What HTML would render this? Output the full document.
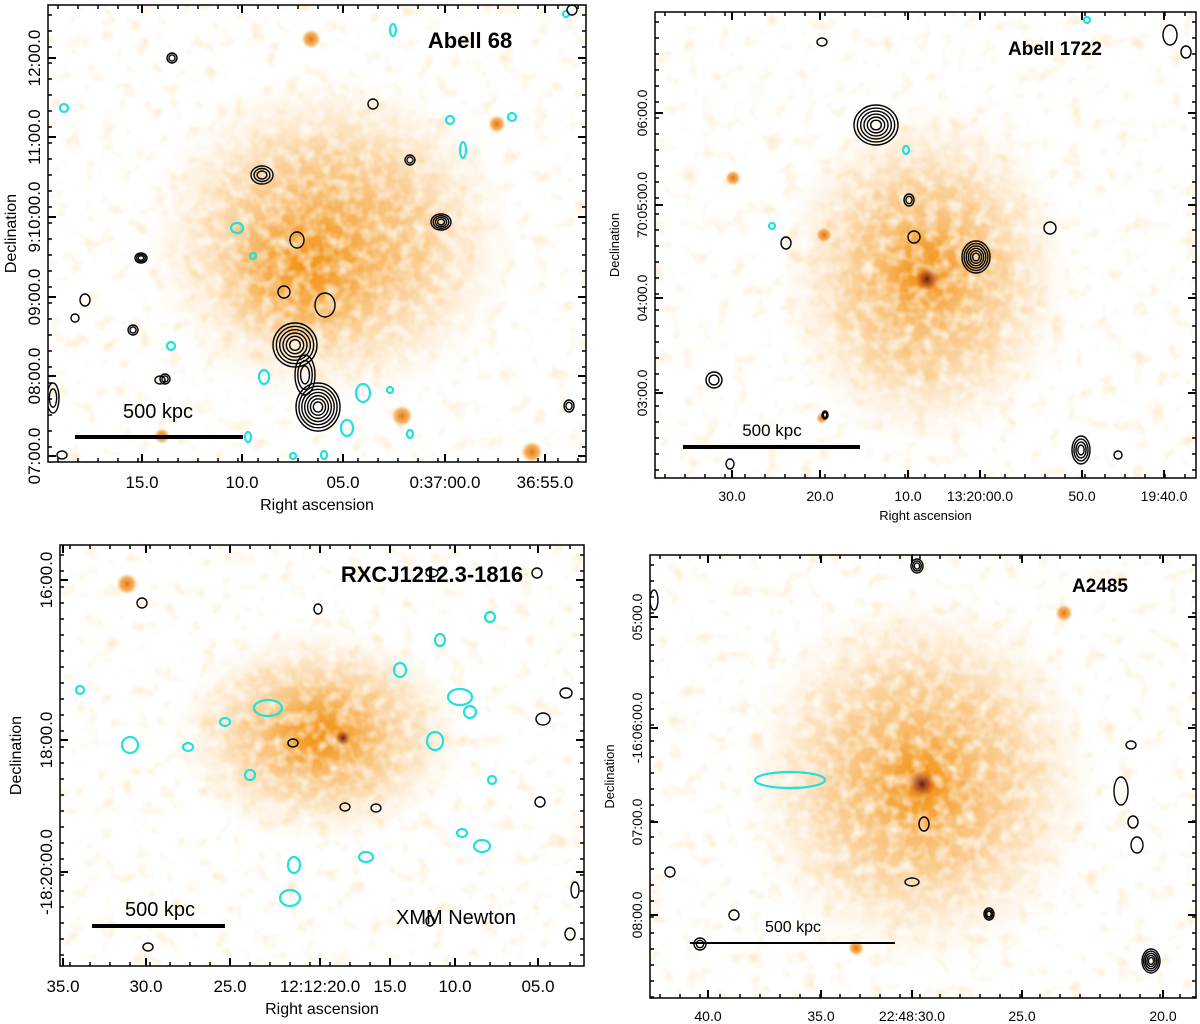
<!DOCTYPE html>
<html><head><meta charset="utf-8">
<style>
body{margin:0;background:#fff;width:1200px;height:1024px;overflow:hidden;font-family:"Liberation Sans",sans-serif;}
svg{position:absolute;left:0;top:0}
</style></head>
<body>
<svg id="s" width="1200" height="1024" xmlns="http://www.w3.org/2000/svg">
<defs>
<filter id="mottle" x="0" y="0" width="100%" height="100%">
<feTurbulence type="fractalNoise" baseFrequency="0.08" numOctaves="2" seed="3"/>
<feColorMatrix type="matrix" values="0 0 0 0 1  0 0 0 0 1  0 0 0 0 1  0 0 0 -2.0 1.25"/>
</filter>
<filter id="patch" x="0" y="0" width="100%" height="100%">
<feTurbulence type="fractalNoise" baseFrequency="0.06" numOctaves="2" seed="11"/>
<feColorMatrix type="matrix" values="0 0 0 0 0.98  0 0 0 0 0.72  0 0 0 0 0.38  0 0 0 3.2 -1.75"/>
</filter>
<radialGradient id="rg"><stop offset="0" stop-color="#f08a00" stop-opacity="0.8"/><stop offset="0.5" stop-color="#f5a030" stop-opacity="0.5"/><stop offset="1" stop-color="#fbd090" stop-opacity="0"/></radialGradient>
<radialGradient id="rgs"><stop offset="0" stop-color="#e07000" stop-opacity="0.95"/><stop offset="0.6" stop-color="#f09020" stop-opacity="0.7"/><stop offset="1" stop-color="#f8c070" stop-opacity="0"/></radialGradient>
<radialGradient id="rgc"><stop offset="0" stop-color="#5a2010" stop-opacity="1"/><stop offset="0.5" stop-color="#b04010" stop-opacity="0.7"/><stop offset="1" stop-color="#d06010" stop-opacity="0"/></radialGradient>
<clipPath id="c1"><rect x="48" y="5" width="538" height="457"/></clipPath>
<clipPath id="c2"><rect x="655" y="12" width="541" height="466"/></clipPath>
<clipPath id="c3"><rect x="60" y="545" width="524" height="421"/></clipPath>
<clipPath id="c4"><rect x="650" y="555" width="546" height="443"/></clipPath>
</defs>
<g id="root"></g>
</svg>
<script>
const panels = [
 {id:1,x:48,y:5,w:538,h:457,title:"Abell 68",tx:470,ty:48,ts:22,clip:"c1"},
 {id:2,x:655,y:12,w:541,h:466,title:"Abell 1722",tx:1055,ty:55,ts:19,clip:"c2"},
 {id:3,x:60,y:545,w:524,h:421,title:"RXCJ1212.3-1816",tx:432,ty:582,ts:22,clip:"c3"},
 {id:4,x:650,y:555,w:546,h:443,title:"A2485",tx:1100,ty:592,ts:19,clip:"c4"}
];
const halo1=[[330,240,190,170],[305,270,100,90]];
const halo2=[[925,275,150,175],[925,270,60,70]];
const halo3=[[320,735,150,110],[320,735,75,60]];
const halo4=[[920,780,180,190],[922,785,70,80]];
const halos=[halo1,halo2,halo3,halo4];
const src1=[[311,39,10],[497,124,9],[402,416,11],[532,452,11],[162,436,8]];
const src2=[[733,178,8],[824,235,8],[822,418,6]];
const src3=[[127,584,11]];
const src4=[[1064,613,9],[856,948,8]];
const srcs=[src1,src2,src3,src4];
const cores=[[],[[927,279,12]],[[343,738,8]],[[922,784,14]]];
const rad1=[[295,345,22,22,6],[318,407,22,24,7],[305,375,10,20,3],[441,222,10,8,4],[262,175,11,9,3],[141,258,6,5,3],[297,240,7,8,1],[325,305,10,12,1],[284,292,6,6,1],[410,160,5,5,2],[172,58,5,5,2],[133,330,5,5,2],[165,379,5,5,2],[373,104,5,5,1],[85,300,5,6,1],[75,318,4,4,1],[569,406,5,6,2],[572,10,5,5,1],[53,398,6,15,2],[160,380,5,4,1],[62,455,5,4,1]];
const rad2=[[876,125,22,20,6],[976,257,14,16,6],[1081,450,9,14,4],[914,237,6,6,1],[909,200,5,6,2],[786,243,5,6,1],[1050,228,6,6,1],[714,380,8,8,2],[822,42,5,4,1],[1170,35,7,10,1],[1186,52,5,6,1],[730,464,4,5,1],[1118,455,4,4,1],[825,415,3,4,2]];
const rad3=[[142,603,5,5,1],[293,743,5,4,1],[345,807,5,4,1],[376,808,5,4,1],[543,719,7,6,1],[566,693,6,5,1],[540,802,5,5,1],[575,890,4,8,1],[570,934,5,6,1],[430,921,4,5,1],[148,947,5,4,1],[318,609,4,5,1],[432,573,6,4,1],[537,573,5,5,1]];
const rad4=[[917,566,6,7,3],[1151,961,9,12,5],[1121,791,7,14,1],[1133,822,5,6,1],[1137,845,6,8,1],[1131,745,5,4,1],[924,824,5,7,1],[912,882,7,4,1],[989,914,5,6,3],[700,944,6,6,2],[734,915,5,5,1],[670,872,5,5,1],[654,600,4,10,1]];
const rads=[rad1,rad2,rad3,rad4];
const cy1=[[64,108,4,4],[393,30,3,6],[450,120,4,4],[512,117,4,4],[463,150,3,8],[237,228,6,5],[253,256,3,3],[171,346,4,4],[264,377,5,7],[363,393,7,9],[347,428,6,8],[390,390,3,3],[410,434,3,4],[248,437,3,5],[293,456,3,3],[324,455,3,4],[566,14,3,3]];
const cy2=[[1087,20,3,3],[906,150,3,4],[772,226,3,3]];
const cy3=[[268,708,14,8],[460,697,12,8],[435,741,8,9],[470,712,6,6],[130,745,8,8],[366,857,7,5],[294,865,6,8],[290,898,10,8],[482,846,8,6],[462,833,5,4],[492,780,4,4],[188,747,5,4],[250,775,5,5],[440,640,5,6],[490,617,5,5],[225,722,5,4],[80,690,4,4],[400,670,6,7]];
const cy4=[[790,780,35,8]];
const cys=[cy1,cy2,cy3,cy4];
const xt1=["15.0","10.0","05.0","0:37:00.0","36:55.0"], xp1=[142,242,343,445,545];
const yt1=["12:00.0","11:00.0","9:10:00.0","09:00.0","08:00.0","07:00.0"], yp1=[58,137,217,297,376,456];
const xt2=["30.0","20.0","10.0","13:20:00.0","50.0","19:40.0"], xp2=[732,820,908,980,1082,1164];
const yt2=["06:00.0","70:05:00.0","04:00.0","03:00.0"], yp2=[113,205,298,393];
const xt3=["35.0","30.0","25.0","12:12:20.0","15.0","10.0","05.0"], xp3=[63,146,230,320,390,455,538];
const yt3=["16:00.0","18:00.0","-18:20:00.0"], yp3=[580,740,872];
const xt4=["40.0","35.0","22:48:30.0","25.0","20.0"], xp4=[708,821,912,1022,1163];
const yt4=["05:00.0","-16:06:00.0","07:00.0","08:00.0"], yp4=[617,728,822,915];
const xts=[[xt1,xp1],[xt2,xp2],[xt3,xp3],[xt4,xp4]];
const yts=[[yt1,yp1],[yt2,yp2],[yt3,yp3],[yt4,yp4]];
const fsz=[17,14,17,14];
const scale=[[75,243,437,"500 kpc",158,418,20],[683,860,447,"500 kpc",772,436,17],[92,225,926,"500 kpc",160,916,20],[690,895,943,"500 kpc",793,932,16]];
const NS="http://www.w3.org/2000/svg";
const root=document.getElementById('root');
function mk(t,a,p){const e=document.createElementNS(NS,t);for(const k in a)e.setAttribute(k,a[k]);(p||root).appendChild(e);return e;}
panels.forEach((P,i)=>{
 const g=mk('g',{'clip-path':'url(#'+P.clip+')'});
 
 
 mk('rect',{x:P.x,y:P.y,width:P.w,height:P.h,fill:'#fff'},g);
 mk('rect',{x:P.x,y:P.y,width:P.w,height:P.h,filter:'url(#patch)',opacity:0.55},g);
 const hg=mk('g',{},g);
 halos[i].forEach(h=>{const e=mk('ellipse',{cx:h[0],cy:h[1],rx:h[2],ry:h[3],fill:'url(#rg)'},hg);
  });
 mk('rect',{x:P.x,y:P.y,width:P.w,height:P.h,filter:'url(#mottle)',opacity:0.8},g);
 srcs[i].forEach(s=>{const e=mk('circle',{cx:s[0],cy:s[1],r:s[2],fill:'url(#rgs)'},g);
  });
 cores[i].forEach(s=>{const e=mk('circle',{cx:s[0],cy:s[1],r:s[2],fill:'url(#rgc)'},g);
  });
 cys[i].forEach(c=>{const e=mk('ellipse',{cx:c[0],cy:c[1],rx:c[2],ry:c[3],fill:'none',stroke:'#20e0e0','stroke-width':2.2},g);
  });
 rads[i].forEach(c=>{for(let k=0;k<c[4];k++){const f=1-k/(c[4]+0.6);
  const e=mk('ellipse',{cx:c[0],cy:c[1],rx:c[2]*f,ry:c[3]*f,fill:'none',stroke:'#000','stroke-width':1.4},g);
  }});
 const fr=mk('rect',{x:P.x,y:P.y,width:P.w,height:P.h,fill:'none',stroke:'#000','stroke-width':1.5});
 
 const t=mk('text',{x:P.tx,y:P.ty,'font-size':P.ts,'font-weight':'bold','text-anchor':'middle'});t.textContent=P.title;
 
 const [xl,xp]=xts[i];
 xl.forEach((l,k)=>{const x=xp[k];
  mk('line',{x1:x,x2:x,y1:P.y+P.h,y2:P.y+P.h-8,stroke:'#000','stroke-width':2});
  mk('line',{x1:x,x2:x,y1:P.y,y2:P.y+8,stroke:'#000','stroke-width':2});
  const e=mk('text',{x:x,y:P.y+P.h+fsz[i]+9,'font-size':fsz[i],'text-anchor':'middle'});e.textContent=l;
  });
 for(let x=P.x+10;x<P.x+P.w;x+=20){mk('line',{x1:x,x2:x,y1:P.y+P.h,y2:P.y+P.h-4,stroke:'#000','stroke-width':1.5});mk('line',{x1:x,x2:x,y1:P.y,y2:P.y+4,stroke:'#000','stroke-width':1.5});}
 const [yl,yp]=yts[i];
 yl.forEach((l,k)=>{const y=yp[k];
  mk('line',{x1:P.x,x2:P.x+8,y1:y,y2:y,stroke:'#000','stroke-width':2});
  mk('line',{x1:P.x+P.w,x2:P.x+P.w-8,y1:y,y2:y,stroke:'#000','stroke-width':2});
  const tx=P.x-8;
  const e=mk('text',{x:tx,y:y,'font-size':fsz[i],'text-anchor':'middle',transform:'rotate(-90 '+tx+' '+y+')'});e.textContent=l;
  });
 for(let y=P.y+10;y<P.y+P.h;y+=16){mk('line',{x1:P.x,x2:P.x+4,y1:y,y2:y,stroke:'#000','stroke-width':1.5});mk('line',{x1:P.x+P.w,x2:P.x+P.w-4,y1:y,y2:y,stroke:'#000','stroke-width':1.5});}
 const xa=mk('text',{x:P.x+P.w/2,y:P.y+P.h+fsz[i]*2+14,'font-size':fsz[i]-1,'text-anchor':'middle'});xa.textContent='Right ascension';
 
 const ax=Math.max(P.x-fsz[i]-22,16), ay=P.y+P.h/2;
 const ya=mk('text',{x:ax,y:ay,'font-size':fsz[i]-1,'text-anchor':'middle',transform:'rotate(-90 '+ax+' '+ay+')'});ya.textContent='Declination';
 
 const s=scale[i];
 const sb=mk('line',{x1:s[0],x2:s[1],y1:s[2],y2:s[2],stroke:'#000','stroke-width':i==3?2:4});
 
 const st=mk('text',{x:s[4],y:s[5],'font-size':s[6],'text-anchor':'middle'});st.textContent=s[3];
 
});
const xm=mk('text',{x:456,y:924,'font-size':20,'text-anchor':'middle'});xm.textContent='XMM Newton';


</script>
</body></html>
